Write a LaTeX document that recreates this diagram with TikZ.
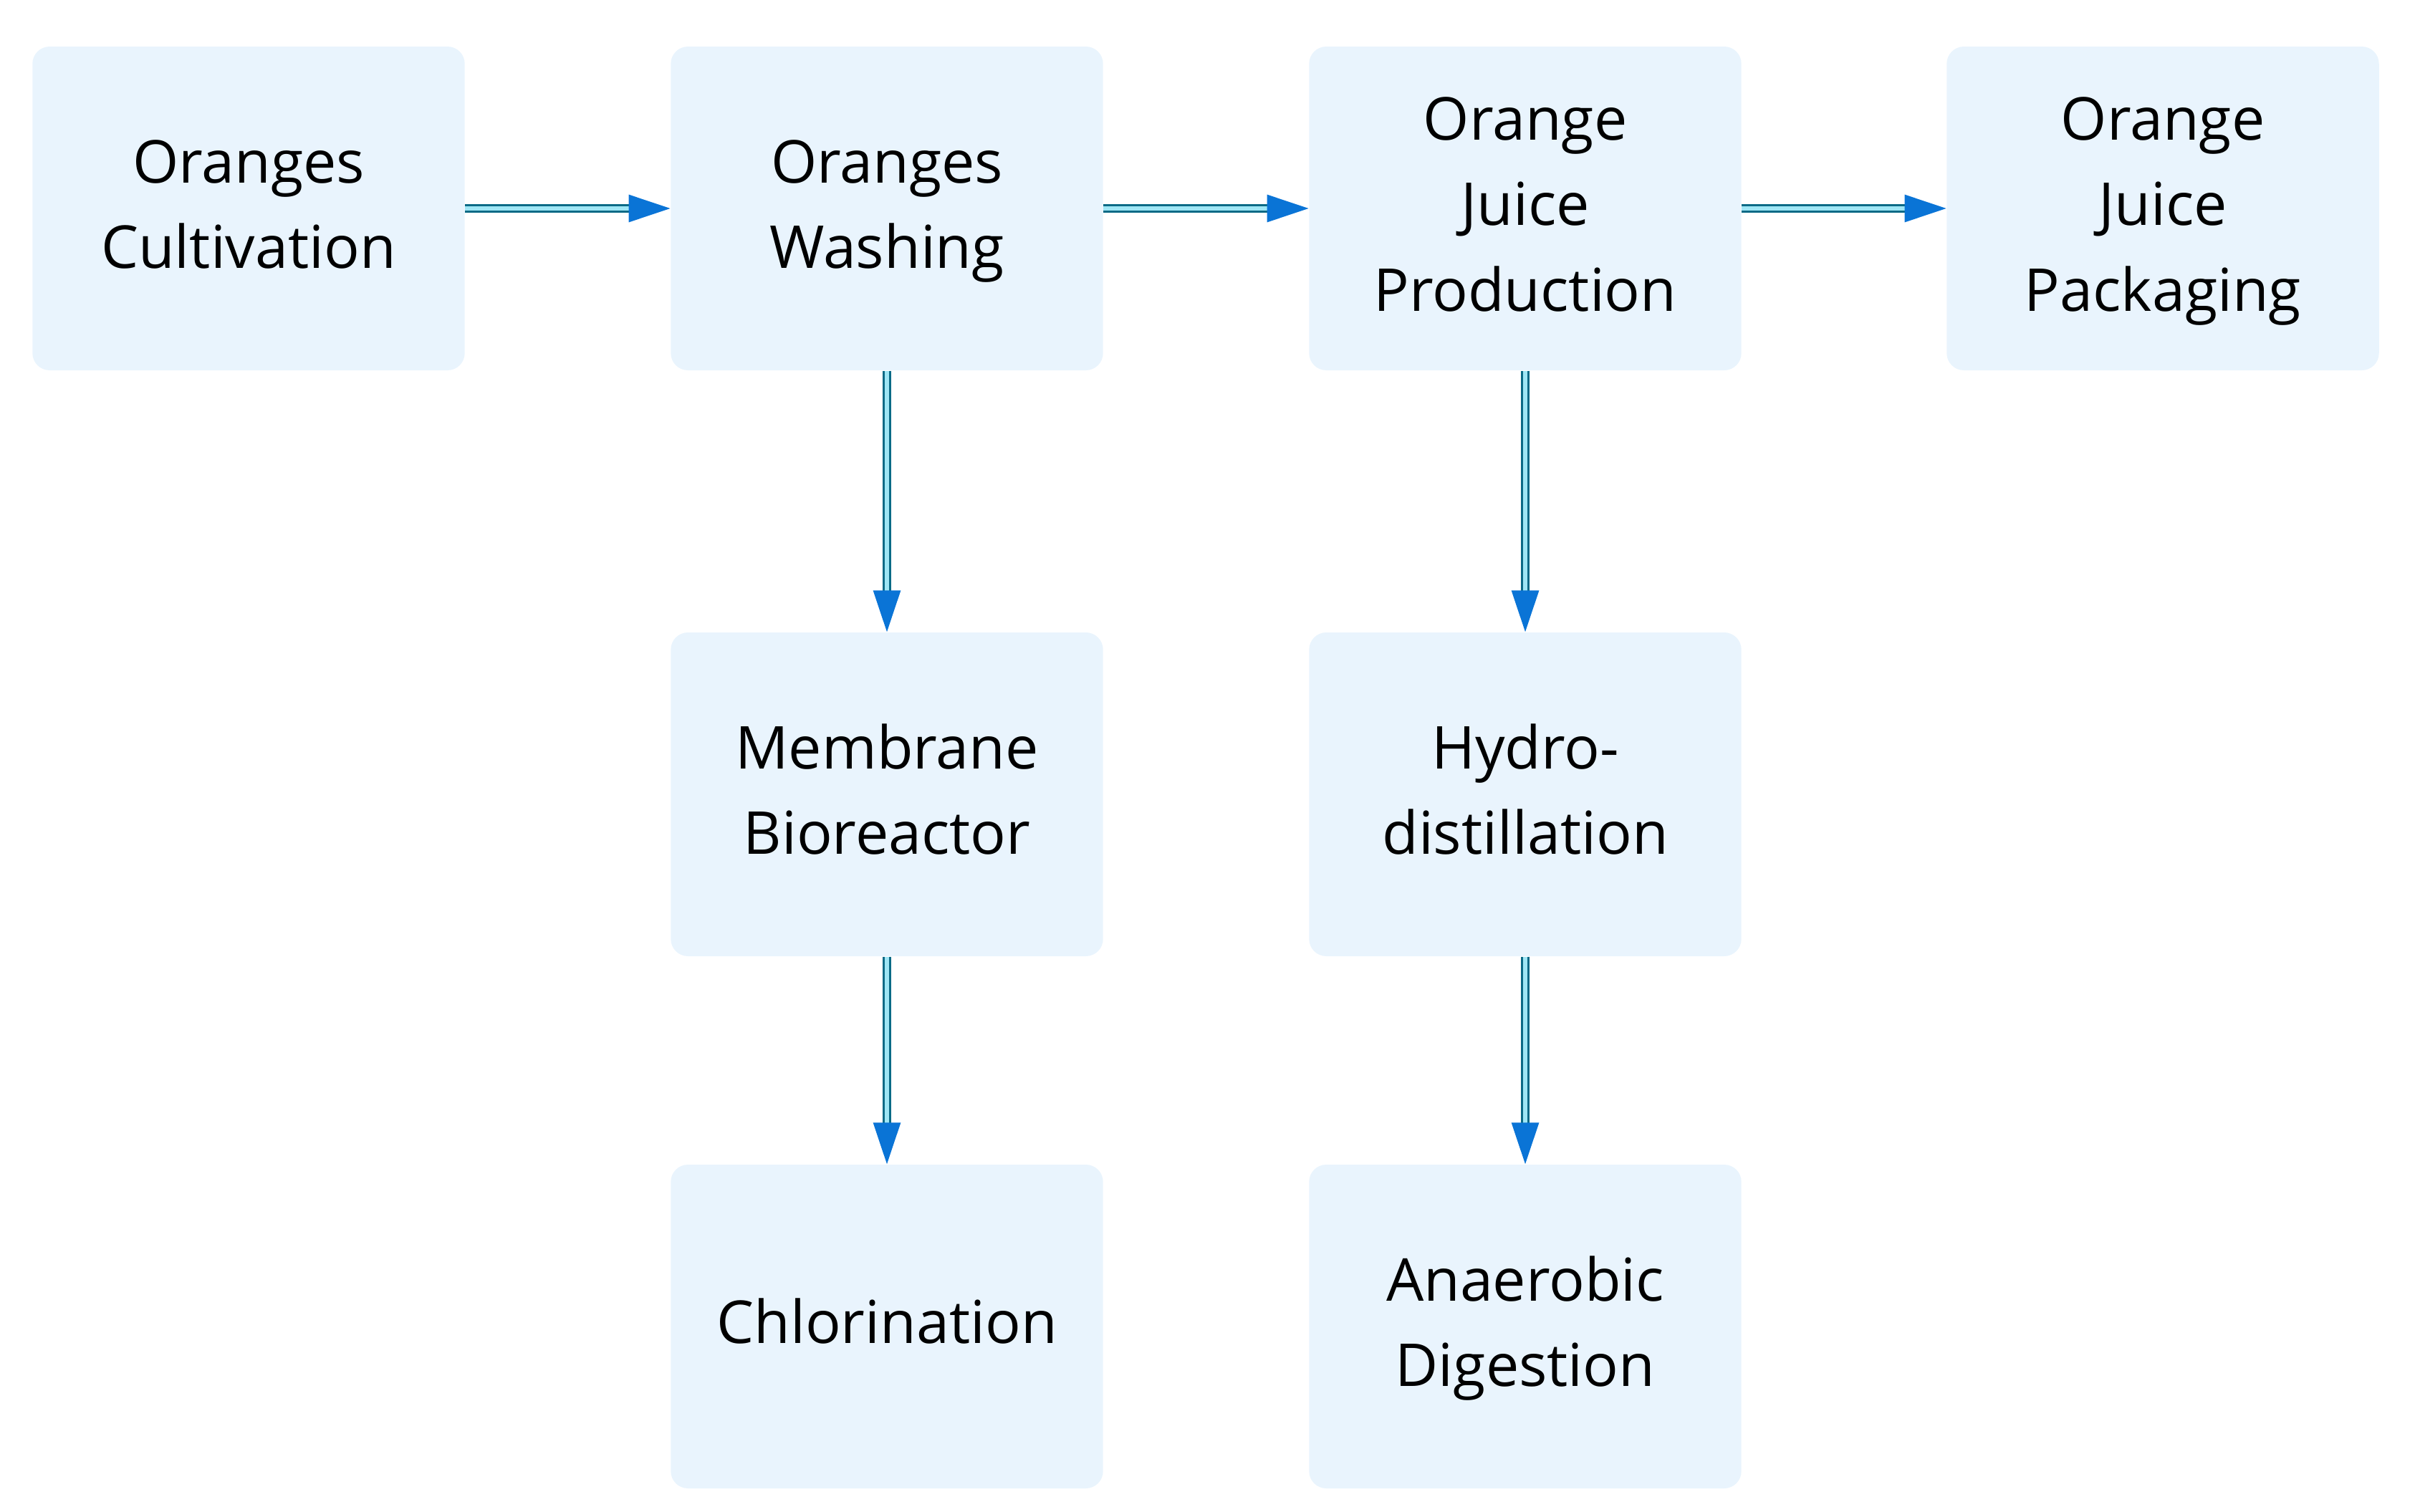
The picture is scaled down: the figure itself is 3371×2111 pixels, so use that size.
\documentclass[tikz,border=0pt]{standalone}
\usepackage{fontspec}
\setmainfont{Open Sans}
\usetikzlibrary{arrows.meta}
\definecolor{boxfill}{HTML}{E9F4FD}
\definecolor{linedark}{HTML}{0B6A86}
\definecolor{linelight}{HTML}{9FE6F5}
\definecolor{tipblue}{HTML}{0A74D6}
\tikzset{
    box/.style={fill=boxfill,rounded corners=2.4mm,minimum width=60mm,minimum height=45.2mm,
        text width=58mm,align=center,font=\fontsize{23.5}{34}\selectfont,
        execute at begin node=\strut,execute at end node=\strut},
    flow/.style={draw=linedark,line width=0.3mm,double=linelight,double distance=0.6mm,
        -{Triangle[length=5.8mm,width=3.8mm,fill=tipblue,color=tipblue]}}
}
\begin{document}
\begin{tikzpicture}[x=0.1mm,y=-0.1mm]
        \useasboundingbox (0,0) rectangle (3371,2111);
        \node[box](0)at(347,291) {Oranges\\Cultivation};
        \node[box](1)at(1238,291) {Oranges\\Washing};
        \node[box](2)at(2129,291) {Orange\\Juice\\Production};
        \node[box](3)at(3019,291) {Orange\\Juice\\Packaging};
        \node[box](4)at(1238,1109) {Membrane\\Bioreactor};
        \node[box](5)at(2129,1109) {Hydro-\\distillation};
        \node[box](6)at(1238,1852) {Chlorination};
        \node[box](7)at(2129,1852) {Anaerobic\\Digestion};
        
        \draw[flow](0) -- (1);
        \draw[flow](1) -- (2);
        \draw[flow](2) -- (3);
        \draw[flow](1) -- (4);
        \draw[flow](2) -- (5);
        \draw[flow](4) -- (6);
        \draw[flow](5) -- (7);
    \end{tikzpicture}
\end{document}
